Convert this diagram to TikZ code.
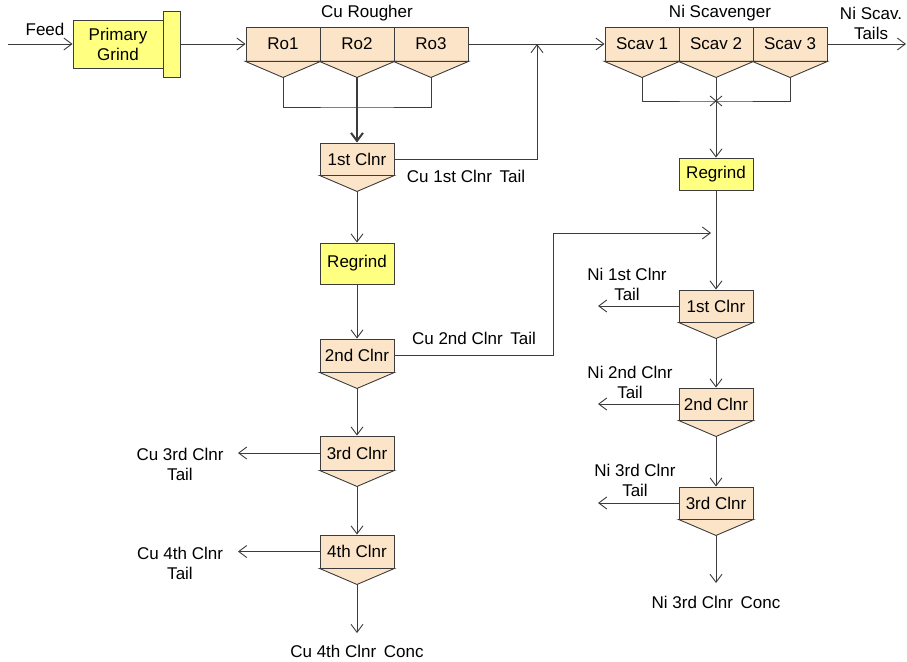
\documentclass[tikz,border=0pt]{standalone}
\usepackage{fontspec}
\setmainfont{Liberation Sans}
\usetikzlibrary{arrows.meta}
\definecolor{peach}{HTML}{FCE4C8}
\definecolor{ylw}{HTML}{FFFF80}
\definecolor{ln}{HTML}{3C3C3C}
\newcommand\mkfunnel[1]{%
  \filldraw[funnel] (#1.south west) -- ([yshift=-16pt]#1.south) -- (#1.south east) -- cycle;
  \coordinate (#1tip) at ([yshift=-16pt]#1.south);}
\begin{document}
\begin{tikzpicture}[x=1pt,y=-1pt,
  every node/.style={font=\fontsize{17}{20}\selectfont, text=black},
  cell/.style={draw=ln, line width=0.9pt, fill=peach, minimum width=74pt, minimum height=34pt, inner sep=0pt},
  clnr/.style={cell, minimum height=33pt},
  grind/.style={draw=ln, line width=0.9pt, fill=ylw, minimum width=74pt, minimum height=32pt, inner sep=0pt},
  funnel/.style={draw=ln, line width=0.9pt, fill=peach},
  flow/.style={draw=ln, line width=0.9pt, -{Straight Barb[length=8pt,width=12pt]}},
  pipe/.style={draw=ln, line width=0.9pt},
  lbl/.style={align=center, inner sep=0pt},
]
\useasboundingbox (0,0) rectangle (907,661);

% ---- Primary grind ----
\coordinate (feed) at (8,44);
\node[grind, minimum width=90pt, minimum height=48pt, align=center] (pg) at (118,44) {Primary\\Grind};
\node[grind, minimum width=17pt, minimum height=66pt] (pgtab) at (171.5,44) {};
\node[lbl] (feedlbl) at (45,29) {Feed};

% ---- Cu rougher ----
\node[cell] (ro1) at (283,44) {Ro1};
\node[cell] (ro2) at (357,44) {Ro2};
\node[cell] (ro3) at (431,44) {Ro3};
\mkfunnel{ro1}\mkfunnel{ro2}\mkfunnel{ro3}
\node[lbl] (rolbl) at (367,13) {Cu Rougher};
\coordinate (rocol) at (357,107);
\coordinate (j1) at (537,44);

% ---- Cu cleaners ----
\node[clnr, minimum height=32pt] (cu1) at (357,159) {1st Clnr};
\mkfunnel{cu1}
\node[grind, minimum height=41pt] (cureg) at (357,263.5) {Regrind};
\node[clnr] (cu2) at (357,355.5) {2nd Clnr};
\mkfunnel{cu2}
\node[clnr, minimum height=34pt] (cu3) at (357,453) {3rd Clnr};
\mkfunnel{cu3}
\node[clnr] (cu4) at (357,551.5) {4th Clnr};
\mkfunnel{cu4}
\coordinate (cu3t) at (238,453);
\coordinate (cu4t) at (238,551.5);
\coordinate (cuconc) at (357,633);
\node[lbl] (cu1lbl) at (466,176) {Cu 1st Clnr\hspace{0.45em}Tail};
\node[lbl] (cu2lbl) at (474,338) {Cu 2nd Clnr\hspace{0.45em}Tail};
\node[lbl] (cu3lbl) at (180,464) {Cu 3rd Clnr\\Tail};
\node[lbl] (cu4lbl) at (180,563) {Cu 4th Clnr\\Tail};
\node[lbl] (cuconclbl) at (357,651) {Cu 4th Clnr\hspace{0.45em}Conc};

% ---- Ni scavenger ----
\node[cell] (scav1) at (642,44) {Scav 1};
\node[cell] (scav2) at (716,44) {Scav 2};
\node[cell] (scav3) at (790,44) {Scav 3};
\mkfunnel{scav1}\mkfunnel{scav2}\mkfunnel{scav3}
\node[lbl] (sclbl) at (720,13) {Ni Scavenger};
\node[lbl] (sctlbl) at (871,23) {Ni Scav.\\Tails};
\coordinate (scavout) at (906,44);
\coordinate (sccol) at (716,101);

% ---- Ni cleaners ----
\node[grind] (nireg) at (716,174) {Regrind};
\node[clnr, minimum height=32pt] (ni1) at (716,306) {1st Clnr};
\mkfunnel{ni1}
\node[clnr, minimum height=32pt] (ni2) at (716,404) {2nd Clnr};
\mkfunnel{ni2}
\node[clnr, minimum height=32pt] (ni3) at (716,503) {3rd Clnr};
\mkfunnel{ni3}
\coordinate (ni1t) at (598,306);
\coordinate (ni2t) at (598,404);
\coordinate (ni3t) at (598,503);
\coordinate (niconc) at (716,583);
\coordinate (b1) at (553,233);
\coordinate (b2) at (711,233);
\node[lbl] (ni1lbl) at (627,284) {Ni 1st Clnr\\Tail};
\node[lbl] (ni2lbl) at (630,382) {Ni 2nd Clnr\\Tail};
\node[lbl] (ni3lbl) at (635,480.5) {Ni 3rd Clnr\\Tail};
\node[lbl] (niconclbl) at (716,602) {Ni 3rd Clnr\hspace{0.45em}Conc};

% ---- connectors ----
\draw[flow] (feed) -- (pg.west);
\draw[flow] (pgtab.east) -- (ro1.west);
\draw[flow] (ro3.east) -- (scav1.west);
\draw[pipe] (ro1tip) |- (rocol) -| (ro3tip);
\draw[flow, line width=2pt] (ro2tip) -- (cu1.north);
\draw[flow] (cu1.east) -| (j1);
\draw[flow] (cu1tip) -- (cureg.north);
\draw[flow] (cureg.south) -- (cu2.north);
\draw[flow] (cu2tip) -- (cu3.north);
\draw[flow] (cu3tip) -- (cu4.north);
\draw[flow] (cu4tip) -- (cuconc);
\draw[flow] (cu3.west) -- (cu3t);
\draw[flow] (cu4.west) -- (cu4t);
\draw[flow] (cu2.east) -| (b1) -- (b2);

\draw[flow] (scav3.east) -- (scavout);
\draw[pipe] (scav1tip) |- (sccol) -| (scav3tip);
\draw[pipe] ([shift={(-6pt,5pt)}]sccol) -- ([shift={(6pt,-5pt)}]sccol);
\draw[pipe] ([shift={(-6pt,-5pt)}]sccol) -- ([shift={(6pt,5pt)}]sccol);
\draw[flow] (scav2tip) -- (nireg.north);
\draw[flow] (nireg.south) -- (ni1.north);
\draw[flow] (ni1tip) -- (ni2.north);
\draw[flow] (ni2tip) -- (ni3.north);
\draw[flow] (ni3tip) -- (niconc);
\draw[flow] (ni1.west) -- (ni1t);
\draw[flow] (ni2.west) -- (ni2t);
\draw[flow] (ni3.west) -- (ni3t);
\end{tikzpicture}
\end{document}
